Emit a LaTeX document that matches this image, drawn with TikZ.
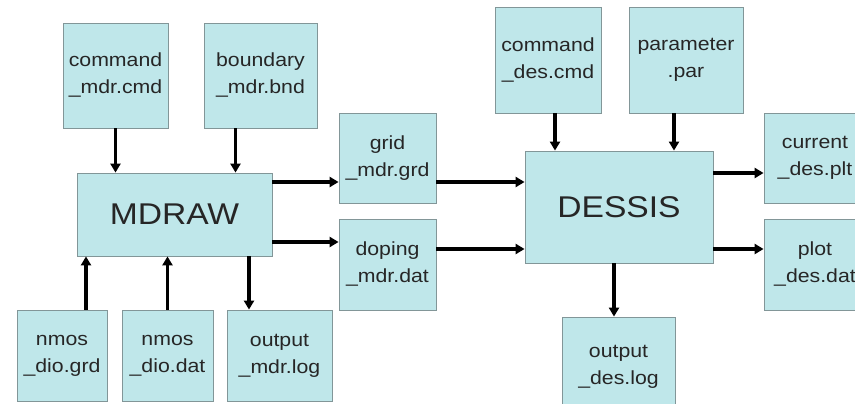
\documentclass[tikz,border=0pt]{standalone}
\usepackage{fontspec}
\setmainfont{Liberation Sans}[FakeStretch=1.12]
\usetikzlibrary{arrows.meta}

\definecolor{boxfill}{RGB}{191,231,234}
\definecolor{boxline}{RGB}{130,150,152}

\tikzset{
  filebox/.style={draw=boxline, line width=0.8pt, fill=boxfill, align=center,
    inner sep=0pt, text=black!85, font=\fontsize{19}{27}\selectfont},
  toolbox/.style={filebox, font=\fontsize{30}{36}\selectfont},
  flow/.style={line width=3.2pt, -{Triangle[length=9pt,width=10pt]}}
}

\begin{document}
\begin{tikzpicture}[x=1pt,y=-1pt]
  \useasboundingbox[fill=white] (0,0) rectangle (855,404);
  \begin{scope}
    \clip (0,0) rectangle (855,404);

    % MDRAW side
    \node[filebox, minimum width=105pt, minimum height=105pt] (cmdmdr) at (115.5,75.5) {command\\\_mdr.cmd};
    \node[filebox, minimum width=113pt, minimum height=105pt] (bndmdr) at (260.5,75.5) {boundary\\\_mdr.bnd};
    \node[toolbox, minimum width=195pt, minimum height=83pt] (mdraw) at (174.5,214.5) {MDRAW};
    \node[filebox, minimum width=97pt, minimum height=90pt] (gridmdr) at (387.5,158) {grid\\\_mdr.grd};
    \node[filebox, minimum width=97pt, minimum height=91pt] (dopmdr) at (387.5,264.5) {doping\\\_mdr.dat};
    \node[filebox, minimum width=90pt, minimum height=91pt] (nmosgrd) at (62,355.5) {nmos\\\_dio.grd};
    \node[filebox, minimum width=91pt, minimum height=91pt] (nmosdat) at (167.5,355.5) {nmos\\\_dio.dat};
    \node[filebox, minimum width=105pt, minimum height=91pt] (outmdr) at (279.5,355.5) {output\\\_mdr.log};

    % DESSIS side
    \node[filebox, minimum width=106pt, minimum height=106pt] (cmddes) at (548,60) {command\\\_des.cmd};
    \node[filebox, minimum width=114pt, minimum height=106pt] (pardes) at (686,60) {parameter\\.par};
    \node[toolbox, minimum width=188pt, minimum height=112pt] (dessis) at (619,207) {DESSIS};
    \node[filebox, minimum width=102pt, minimum height=90pt] (curdes) at (815,158) {current\\\_des.plt};
    \node[filebox, minimum width=102pt, minimum height=91pt] (plotdes) at (815,264.5) {plot\\\_des.dat};
    \node[filebox, minimum width=113pt, minimum height=100pt] (outdes) at (618.5,367) {output\\\_des.log};

    % inputs to MDRAW
    \draw[flow] (cmdmdr.south) -- (cmdmdr.south |- mdraw.north);
    \draw[flow] ([xshift=-25pt]bndmdr.south) -- ([xshift=-25pt]bndmdr.south |- mdraw.north);
    \draw[flow] ([xshift=24pt]nmosgrd.north) -- ([xshift=24pt]nmosgrd.north |- mdraw.south);
    \draw[flow] (nmosdat.north) -- (nmosdat.north |- mdraw.south);
    \draw[flow] ([xshift=-30.5pt]outmdr.north |- mdraw.south) -- ([xshift=-30.5pt]outmdr.north);

    % MDRAW to DESSIS
    \draw[flow] ([yshift=32.5pt]mdraw.east) -- ([yshift=32.5pt]mdraw.east -| gridmdr.west);
    \draw[flow] ([yshift=-27.5pt]mdraw.east) -- ([yshift=-27.5pt]mdraw.east -| dopmdr.west);
    \draw[flow] ([yshift=-24pt]gridmdr.east) -- ([yshift=-24pt]gridmdr.east -| dessis.west);
    \draw[flow] ([yshift=15.5pt]dopmdr.east) -- ([yshift=15.5pt]dopmdr.east -| dessis.west);

    % DESSIS inputs and outputs
    \draw[flow] ([xshift=7pt]cmddes.south) -- ([xshift=7pt]cmddes.south |- dessis.north);
    \draw[flow] ([xshift=-12pt]pardes.south) -- ([xshift=-12pt]pardes.south |- dessis.north);
    \draw[flow] ([yshift=34pt]dessis.east) -- ([yshift=34pt]dessis.east -| curdes.west);
    \draw[flow] ([yshift=-42pt]dessis.east) -- ([yshift=-42pt]dessis.east -| plotdes.west);
    \draw[flow] ([xshift=-5pt]dessis.south) -- ([xshift=-5pt]dessis.south |- outdes.north);
  \end{scope}
\end{tikzpicture}
\end{document}
